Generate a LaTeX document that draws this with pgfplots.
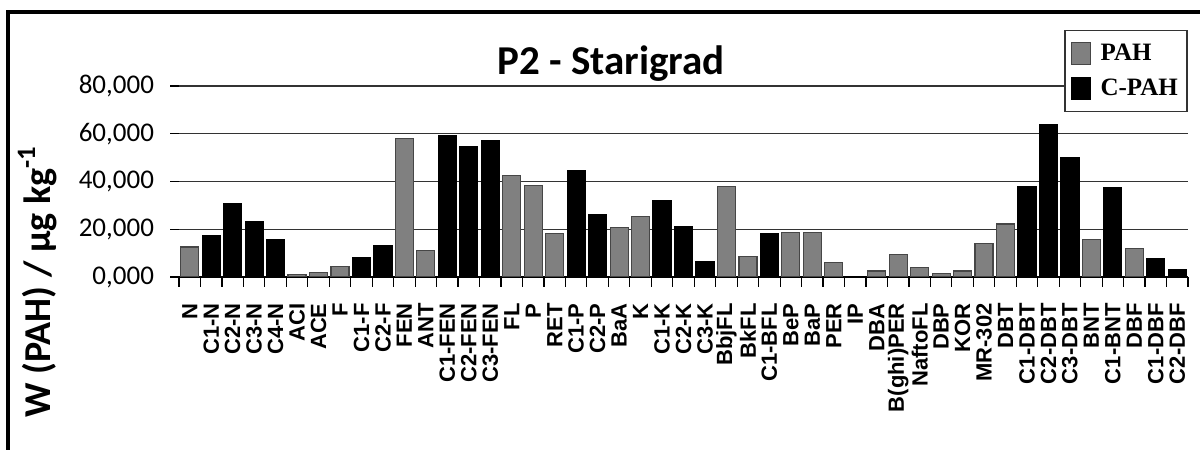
\documentclass[border=0pt]{standalone}
\usepackage{pgfplots}
\pgfplotsset{compat=1.18}
\usepackage{fontspec}
\setmainfont{Carlito}
\newfontfamily\lsans{Liberation Sans}
\newfontfamily\lserif{Liberation Serif}
\definecolor{pahgray}{RGB}{128,128,128}
\definecolor{pahedge}{RGB}{70,70,70}
\begin{document}
\begin{tikzpicture}
\begin{axis}[
  at={(89.5bp,86.5bp)}, anchor=south west,
  width=504.5bp, height=95.5bp, scale only axis,
  xmin=-0.5, xmax=46.5, ymin=0, ymax=80,
  ybar, bar width=9bp, bar shift=0pt,
  legend image code/.code={\filldraw[#1] (0bp,-5.5bp) rectangle (9.5bp,5.5bp); \path[draw=none, fill=none] (0bp,0bp) rectangle (13bp,0.1bp);},
  axis x line*=bottom, axis y line*=left,
  y axis line style={draw=none},
  x axis line style={black, line width=0.8bp},
  ymajorgrids, grid style={black!80, line width=0.6bp},
  ytick={0,20,40,60,80},
  yticklabels={{0,000},{20,000},{40,000},{60,000},{80,000}},
  yticklabel style={font=\fontsize{13.5bp}{15bp}\selectfont, anchor=east, xshift=-4.5bp},
  tick align=outside, major tick length=4.5bp,
  minor tick length=5bp,
  every major x tick/.style={draw=none},
  every tick/.style={black, line width=0.6bp},
  xtick={0,...,46},
  minor xtick={-0.5,0.5,...,46.5},
  xtick pos=bottom, ytick pos=left,
  xticklabels={N,C1-N,C2-N,C3-N,C4-N,ACI,ACE,F,C1-F,C2-F,FEN,ANT,C1-FEN,C2-FEN,C3-FEN,FL,P,RET,C1-P,C2-P,BaA,K,C1-K,C2-K,C3-K,BbjFL,BkFL,C1-BFL,BeP,BaP,PER,IP,DBA,B(ghi)PER,NaftoFL,DBP,KOR,MR-302,DBT,C1-DBT,C2-DBT,C3-DBT,BNT,C1-BNT,DBF,C1-DBF,C2-DBF},
  xticklabel style={rotate=90, anchor=east, font=\lsans\bfseries\fontsize{11bp}{12bp}\selectfont, inner sep=0pt},
  xticklabel shift=8.5bp,
  legend style={at={(0.9995,1.293)}, anchor=north east, draw=black!80, line width=0.6bp,
    font=\lserif\bfseries\fontsize{12.5bp}{14bp}\selectfont, inner xsep=3bp, inner ysep=5bp, row sep=5bp,
    nodes={inner ysep=1.5bp, inner xsep=1.5bp}},
  legend cell align=left,
]
\addplot[fill=pahgray, draw=pahedge, line width=0.6bp] coordinates {
  (0,12.6) (5,1.0) (6,2.0) (7,4.5) (10,58.1) (11,11.0) (15,42.4) (16,38.4)
  (17,18.1) (20,20.7) (21,25.3) (25,37.8) (26,8.5) (28,18.7) (29,18.7)
  (30,6.0) (32,2.5) (33,9.5) (34,4.0) (35,1.5) (36,2.5) (37,14.1) (38,22.2)
  (42,15.6) (44,12.1)
};
\addplot[fill=black, draw=black, line width=0.6bp] coordinates {
  (1,17.2) (2,30.9) (3,23.3) (4,15.8) (8,8.2) (9,13.1) (12,59.2) (13,54.6)
  (14,57.1) (18,44.5) (19,26.3) (22,31.8) (23,21.2) (24,6.6) (27,18.1)
  (39,37.8) (40,63.7) (41,50.0) (43,37.4) (45,7.5) (46,3.1)
};
\legend{PAH,C-PAH}
\end{axis}
\node[anchor=base, font=\bfseries\fontsize{20.5bp}{24bp}\selectfont] at (305.5bp,187.5bp) {P2 - Starigrad};
\node[anchor=base west, rotate=90, inner sep=0pt, font=\bfseries\fontsize{19bp}{22bp}\selectfont] at (25bp,16bp) {W (PAH) / µg kg\textsuperscript{-1}};
\draw[line width=2bp] (4.15bp,0) -- (4.15bp,219.15bp) -- (600bp,219.15bp);
\pgfresetboundingbox
\useasboundingbox (0,0) rectangle (600bp,225bp);
\end{tikzpicture}
\end{document}
